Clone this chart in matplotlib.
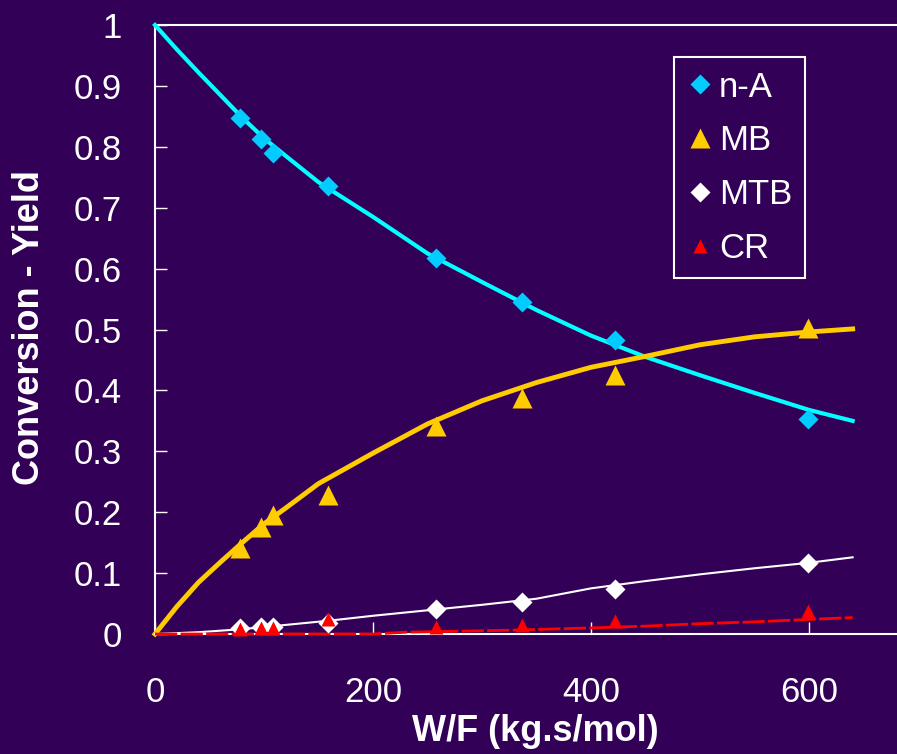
import matplotlib.pyplot as plt

plt.rcParams['font.family'] = ['Liberation Sans', 'DejaVu Sans']

bg = '#330057'

# experimental points
wf_exp = [78, 97, 108, 159, 258, 337, 422, 599]
nA_exp = [0.847, 0.813, 0.790, 0.736, 0.617, 0.545, 0.483, 0.353]
MB_exp = [0.142, 0.175, 0.195, 0.228, 0.342, 0.387, 0.426, 0.503]
MTB_exp = [0.010, 0.011, 0.011, 0.018, 0.041, 0.053, 0.074, 0.117]
CR_exp = [0.008, 0.010, 0.010, 0.024, 0.011, 0.015, 0.021, 0.038]

# model curves
wf_nA = [0, 20, 40, 60, 80, 100, 120, 150, 200, 250, 300, 350, 400, 450, 500, 550, 600, 640]
nA_mod = [1.0, 0.96, 0.922, 0.885, 0.848, 0.814, 0.785, 0.742, 0.685, 0.625, 0.578, 0.532, 0.49, 0.455, 0.425, 0.396, 0.368, 0.35]

wf_MB = [0, 20, 40, 60, 80, 100, 120, 150, 200, 250, 300, 350, 400, 450, 500, 550, 600, 640]
MB_mod = [0.0, 0.045, 0.085, 0.118, 0.15, 0.181, 0.207, 0.247, 0.297, 0.345, 0.383, 0.413, 0.438, 0.456, 0.475, 0.488, 0.496, 0.501]

wf_MTB = [0, 40, 80, 120, 160, 200, 250, 300, 350, 400, 450, 500, 550, 600, 640]
MTB_mod = [0.0, 0.003, 0.008, 0.015, 0.022, 0.03, 0.039, 0.048, 0.058, 0.075, 0.087, 0.098, 0.108, 0.117, 0.126]

wf_CR = [0, 200, 230, 320, 400, 450, 500, 550, 600, 640]
CR_mod = [0.0, 0.0, 0.003, 0.006, 0.01, 0.013, 0.017, 0.02, 0.024, 0.027]

yticks = [0, 0.1, 0.2, 0.3, 0.4, 0.5, 0.6, 0.7, 0.8, 0.9, 1]
ylabels = ['0', '0.1', '0.2', '0.3', '0.4', '0.5', '0.6', '0.7', '0.8', '0.9', '1']
xticks = [0, 200, 400, 600]

fig = plt.figure(figsize=(8.97, 7.54), dpi=100, facecolor=bg)
ax = fig.add_axes([0.1728, 0.1591, 0.8272, 0.8077], facecolor=bg)

ax.plot(wf_nA, nA_mod, color='#00FFFF', lw=3, zorder=3, clip_on=False)
ax.plot(wf_MB, MB_mod, color='#FFCC00', lw=3.5, zorder=3, clip_on=False)
ax.plot(wf_MTB, MTB_mod, color='white', lw=1.5, zorder=3, clip_on=False)
ax.plot(wf_CR, CR_mod, color='#FF0000', lw=2, ls=(0, (8, 1.2)), zorder=3, clip_on=False)

ax.plot(wf_exp, nA_exp, 'D', color='#00CCFF', ms=10, mec='none', label='n-A', zorder=4)
ax.plot(wf_exp, MB_exp, '^', color='#FFCC00', ms=15, mec='none', label='MB', zorder=4)
ax.plot(wf_exp, MTB_exp, 'D', color='white', ms=10, mec='none', label='MTB', zorder=4)
ax.plot(wf_exp, CR_exp, '^', color='#FF0000', ms=9.5, mec='none', label='CR', zorder=5,
        clip_on=False)

ax.set_xlim(0, 680.7)
ax.set_ylim(0, 1)
ax.set_xticks(xticks)
ax.set_xticklabels([str(v) for v in xticks])
ax.set_yticks(yticks)
ax.set_yticklabels(ylabels)

ax.tick_params(axis='both', direction='in', colors='white', labelsize=25, length=8.5, width=1)
ax.tick_params(axis='x', pad=30)
ax.tick_params(axis='y', pad=24)

for side in ['left', 'bottom', 'top']:
    ax.spines[side].set_color('white')
    ax.spines[side].set_linewidth(1.5)
ax.spines['right'].set_visible(False)

ax.set_xlabel('W/F (kg.s/mol)', color='white', fontsize=26, fontweight='bold')
ax.set_ylabel('Conversion - Yield', color='white', fontsize=26, fontweight='bold')
ax.xaxis.set_label_coords(0.5128, -0.132)
ax.yaxis.set_label_coords(-0.1456, 0.504)

leg = ax.legend(loc='upper left', bbox_to_anchor=(0.7, 0.947), borderaxespad=0,
                fontsize=25, frameon=True, fancybox=False, facecolor=bg, edgecolor='white',
                framealpha=1, handlelength=0.7, handletextpad=0.2, borderpad=0.38,
                labelspacing=0.6)
leg.get_frame().set_linewidth(1.5)
for t in leg.get_texts():
    t.set_color('white')

fig.savefig('out.png', dpi=100, facecolor=bg)
